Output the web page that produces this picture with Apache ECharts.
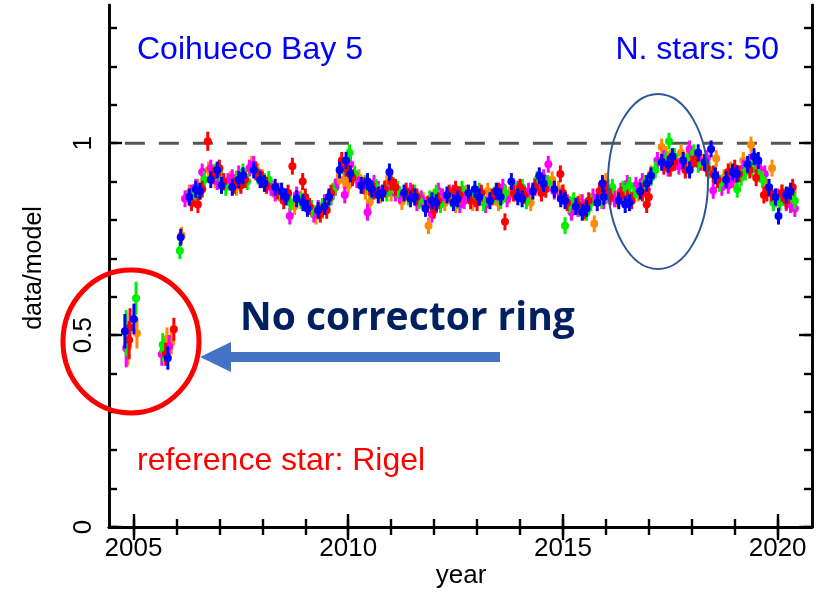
<!DOCTYPE html>
<html><head><meta charset="utf-8">
<script src="https://cdn.jsdelivr.net/npm/echarts@6/dist/echarts.min.js"></script>
<style>html,body{margin:0;padding:0;background:#fff}#c{width:826px;height:595px}</style>
</head><body><div id="c"></div><script>
// ---- tick positions / labels ----
const xMajorTicks = [2005, 2010, 2015, 2020];
const xMinorTicks = [2005, 2006, 2007, 2008, 2009, 2010, 2011, 2012, 2013, 2014, 2015, 2016, 2017, 2018, 2019, 2020];
const yMajorTicks = [0, 0.5, 1];
const yMinorTicks = [0, 0.1, 0.2, 0.3, 0.4, 0.5, 0.6, 0.7, 0.8, 0.9, 1.0, 1.1, 1.2, 1.3];
const refLine = [[2004.8, 1], [2020.6, 1]];

// ---- data: [year, data/model, error] ----
const blue = [
 [2004.80,0.51,0.045],[2005.01,0.542,0.04],[2005.80,0.44,0.03],
 [2006.10,0.755,0.022],[2006.30,0.86,0.022],[2006.55,0.875,0.022],[2006.80,0.905,0.022],[2007.05,0.89,0.022],
 [2007.30,0.885,0.022],[2007.55,0.915,0.022],[2007.80,0.93,0.022],[2008.05,0.895,0.022],[2008.30,0.885,0.022],
 [2008.55,0.86,0.022],[2008.80,0.855,0.022],[2009.05,0.83,0.022],[2009.30,0.825,0.022],[2009.55,0.86,0.022],
 [2009.80,0.93,0.022],[2010.05,0.92,0.022],[2010.30,0.89,0.022],[2010.55,0.88,0.022],[2010.80,0.87,0.022],
 [2010.96,0.925,0.022],[2011.30,0.87,0.022],[2011.55,0.86,0.022],[2011.80,0.83,0.022],[2012.05,0.845,0.022],
 [2012.30,0.865,0.022],[2012.55,0.855,0.022],[2012.80,0.87,0.022],[2013.05,0.86,0.022],[2013.30,0.85,0.022],
 [2013.55,0.86,0.022],[2013.80,0.90,0.022],[2014.05,0.855,0.022],[2014.30,0.875,0.022],[2014.55,0.895,0.022],
 [2014.80,0.88,0.022],[2015.05,0.85,0.022],[2015.30,0.835,0.022],[2015.55,0.83,0.022],[2015.80,0.845,0.022],
 [2015.92,0.895,0.022],[2016.30,0.85,0.022],[2016.55,0.845,0.022],[2016.80,0.875,0.022],[2017.05,0.915,0.022],
 [2017.30,0.95,0.022],[2017.55,0.965,0.022],[2017.80,0.955,0.022],[2018.15,0.975,0.022],[2018.30,0.95,0.022],
 [2018.55,0.915,0.022],[2018.80,0.905,0.022],[2019.05,0.92,0.022],[2019.30,0.945,0.022],[2019.55,0.955,0.022],
 [2019.80,0.885,0.022],[2020.02,0.81,0.022],[2020.30,0.875,0.022],
 [2006.45,0.88,0.022],[2006.95,0.93,0.022],[2007.45,0.905,0.022],[2007.95,0.905,0.022],[2008.45,0.875,0.022],
 [2008.95,0.845,0.022],[2009.45,0.835,0.022],[2009.95,0.955,0.022],[2010.45,0.90,0.022],[2010.70,0.865,0.022],
 [2011.45,0.855,0.022],[2011.95,0.85,0.022],[2012.45,0.845,0.022],[2012.95,0.88,0.022],[2013.45,0.875,0.022],
 [2013.95,0.86,0.022],[2014.45,0.915,0.022],[2014.95,0.855,0.022],[2015.45,0.82,0.022],[2015.95,0.86,0.022],
 [2016.45,0.84,0.022],[2016.95,0.895,0.022],[2017.45,0.945,0.022],[2017.95,0.93,0.022],[2018.45,0.985,0.022],
 [2018.95,0.925,0.022],[2019.45,0.965,0.022],[2019.95,0.86,0.022],[2020.20,0.865,0.022]
];
const red = [
 [2004.90,0.487,0.05],[2004.92,0.52,0.05],[2005.75,0.45,0.03],[2005.94,0.515,0.03],
 [2006.35,0.845,0.022],[2006.60,0.88,0.022],[2006.73,1.005,0.025],[2006.85,0.915,0.022],[2007.10,0.90,0.022],
 [2007.35,0.89,0.022],[2007.60,0.905,0.022],[2007.85,0.925,0.022],[2008.10,0.89,0.022],[2008.35,0.875,0.022],
 [2008.60,0.87,0.022],[2008.70,0.94,0.022],[2008.94,0.90,0.022],[2009.10,0.835,0.022],[2009.35,0.815,0.022],
 [2009.60,0.87,0.022],[2009.85,0.955,0.022],[2010.10,0.91,0.022],[2010.35,0.89,0.022],[2010.60,0.875,0.022],
 [2010.85,0.88,0.022],[2011.10,0.885,0.022],[2011.35,0.875,0.022],[2011.60,0.86,0.022],[2011.85,0.84,0.022],
 [2012.10,0.85,0.022],[2012.35,0.87,0.022],[2012.60,0.865,0.022],[2012.85,0.85,0.022],[2013.10,0.87,0.022],
 [2013.35,0.86,0.022],[2013.65,0.795,0.022],[2013.85,0.87,0.022],[2014.10,0.865,0.022],[2014.35,0.885,0.022],
 [2014.60,0.88,0.022],[2014.94,0.92,0.022],[2015.10,0.845,0.022],[2015.35,0.84,0.022],[2015.60,0.85,0.022],
 [2015.85,0.875,0.022],[2016.10,0.86,0.022],[2016.35,0.865,0.022],[2016.60,0.85,0.022],[2016.85,0.87,0.022],
 [2017.00,0.86,0.022],[2017.35,0.94,0.022],[2017.60,0.95,0.022],[2017.85,0.93,0.022],[2018.10,0.96,0.022],
 [2018.35,0.935,0.022],[2018.60,0.905,0.022],[2018.85,0.925,0.022],[2019.10,0.92,0.022],[2019.35,0.93,0.022],
 [2019.68,0.865,0.022],[2019.85,0.87,0.022],[2020.10,0.87,0.022],[2020.35,0.885,0.022],
 [2006.50,0.84,0.022],[2007.00,0.935,0.022],[2007.50,0.89,0.022],[2008.00,0.905,0.022],[2008.50,0.85,0.022],
 [2009.00,0.86,0.022],[2009.50,0.825,0.022],[2009.95,0.935,0.022],[2010.50,0.885,0.022],[2011.00,0.90,0.022],
 [2011.50,0.87,0.022],[2012.00,0.825,0.022],[2012.50,0.88,0.022],[2013.00,0.845,0.022],[2013.50,0.875,0.022],
 [2014.00,0.885,0.022],[2014.50,0.87,0.022],[2015.00,0.87,0.022],[2015.50,0.825,0.022],[2016.00,0.88,0.022],
 [2016.50,0.855,0.022],[2016.95,0.84,0.022],[2017.50,0.935,0.022],[2018.00,0.945,0.022],[2018.50,0.92,0.022],
 [2019.00,0.935,0.022],[2019.50,0.91,0.022],[2019.75,0.87,0.022],[2020.20,0.85,0.022]
];
const green = [
 [2004.83,0.505,0.06],[2005.06,0.596,0.043],[2005.68,0.475,0.03],[2005.70,0.46,0.03],
 [2006.08,0.72,0.022],[2006.40,0.86,0.022],[2006.65,0.905,0.022],[2006.90,0.925,0.022],[2007.15,0.885,0.022],
 [2007.40,0.905,0.022],[2007.65,0.90,0.022],[2007.90,0.915,0.022],[2008.15,0.905,0.022],[2008.40,0.875,0.022],
 [2008.65,0.845,0.022],[2008.90,0.85,0.022],[2009.15,0.83,0.022],[2009.40,0.835,0.022],[2009.65,0.875,0.022],
 [2009.90,0.94,0.022],[2010.03,0.975,0.022],[2010.40,0.895,0.022],[2010.65,0.885,0.022],[2010.90,0.87,0.022],
 [2011.15,0.88,0.022],[2011.40,0.86,0.022],[2011.65,0.85,0.022],[2011.90,0.855,0.022],[2012.15,0.84,0.022],
 [2012.40,0.855,0.022],[2012.65,0.88,0.022],[2012.90,0.865,0.022],[2013.15,0.845,0.022],[2013.40,0.865,0.022],
 [2013.65,0.87,0.022],[2013.90,0.875,0.022],[2014.15,0.85,0.022],[2014.40,0.905,0.022],[2014.65,0.895,0.022],
 [2015.05,0.785,0.022],[2015.15,0.84,0.022],[2015.40,0.83,0.022],[2015.65,0.845,0.022],[2015.90,0.855,0.022],
 [2016.15,0.885,0.022],[2016.40,0.88,0.022],[2016.65,0.865,0.022],[2016.90,0.895,0.022],[2017.15,0.93,0.022],
 [2017.40,0.955,0.022],[2017.47,1.005,0.022],[2017.90,0.95,0.022],[2018.15,0.945,0.022],[2018.40,0.93,0.022],
 [2018.65,0.895,0.022],[2019.06,0.88,0.022],[2019.15,0.91,0.022],[2019.40,0.935,0.022],[2019.65,0.905,0.022],
 [2019.90,0.845,0.022],[2020.15,0.86,0.022],[2020.40,0.85,0.022],
 [2006.55,0.875,0.022],[2007.05,0.91,0.022],[2007.55,0.925,0.022],[2008.05,0.90,0.022],[2008.55,0.86,0.022],
 [2009.05,0.845,0.022],[2009.55,0.85,0.022],[2010.15,0.92,0.022],[2010.55,0.875,0.022],[2011.05,0.89,0.022],
 [2011.55,0.87,0.022],[2012.05,0.87,0.022],[2012.55,0.85,0.022],[2013.05,0.875,0.022],[2013.55,0.85,0.022],
 [2014.05,0.885,0.022],[2014.55,0.885,0.022],[2015.25,0.85,0.022],[2015.55,0.82,0.022],[2016.05,0.865,0.022],
 [2016.55,0.89,0.022],[2017.05,0.91,0.022],[2017.60,0.965,0.022],[2018.05,0.975,0.022],[2018.55,0.915,0.022],
 [2019.25,0.925,0.022],[2019.55,0.92,0.022],[2020.05,0.845,0.022],[2020.30,0.87,0.022]
];
const magenta = [
 [2004.83,0.466,0.05],[2005.66,0.45,0.03],[2005.83,0.47,0.03],
 [2006.20,0.855,0.022],[2006.45,0.885,0.022],[2006.60,0.925,0.022],[2006.95,0.90,0.022],[2007.20,0.90,0.022],
 [2007.45,0.92,0.022],[2007.70,0.935,0.022],[2007.95,0.91,0.022],[2008.20,0.885,0.022],[2008.45,0.865,0.022],
 [2008.64,0.81,0.022],[2008.95,0.845,0.022],[2009.20,0.815,0.022],[2009.45,0.845,0.022],[2009.70,0.885,0.022],
 [2009.92,0.865,0.022],[2010.20,0.905,0.022],[2010.45,0.82,0.022],[2010.70,0.88,0.022],[2010.95,0.885,0.022],
 [2011.20,0.865,0.022],[2011.45,0.875,0.022],[2011.70,0.855,0.022],[2011.95,0.815,0.022],[2012.20,0.86,0.022],
 [2012.45,0.87,0.022],[2012.70,0.85,0.022],[2012.95,0.855,0.022],[2013.20,0.84,0.022],[2013.45,0.87,0.022],
 [2013.70,0.855,0.022],[2013.95,0.88,0.022],[2014.20,0.875,0.022],[2014.45,0.885,0.022],[2014.66,0.945,0.022],
 [2014.95,0.86,0.022],[2015.20,0.82,0.022],[2015.45,0.845,0.022],[2015.70,0.86,0.022],[2015.95,0.85,0.022],
 [2016.20,0.855,0.022],[2016.50,0.895,0.022],[2016.70,0.89,0.022],[2016.95,0.88,0.022],[2017.20,0.955,0.022],
 [2017.45,0.935,0.022],[2017.70,0.94,0.022],[2017.95,0.985,0.022],[2018.20,0.95,0.022],[2018.50,0.877,0.022],
 [2018.70,0.885,0.022],[2018.95,0.905,0.022],[2019.20,0.935,0.022],[2019.45,0.945,0.022],[2019.70,0.92,0.022],
 [2019.95,0.855,0.022],[2020.20,0.845,0.022],[2020.40,0.83,0.022],
 [2006.35,0.87,0.022],[2006.80,0.935,0.022],[2007.30,0.91,0.022],[2007.80,0.945,0.022],[2008.30,0.87,0.022],
 [2008.80,0.865,0.022],[2009.30,0.83,0.022],[2009.60,0.86,0.022],[2010.05,0.945,0.022],[2010.60,0.895,0.022],
 [2011.10,0.87,0.022],[2011.60,0.845,0.022],[2012.10,0.875,0.022],[2012.60,0.84,0.022],[2013.10,0.86,0.022],
 [2013.60,0.885,0.022],[2014.10,0.865,0.022],[2014.55,0.91,0.022],[2014.80,0.875,0.022],[2015.35,0.83,0.022],
 [2015.85,0.86,0.022],[2016.35,0.875,0.022],[2016.85,0.90,0.022],[2017.35,0.96,0.022],[2017.85,0.94,0.022],
 [2018.35,0.96,0.022],[2018.85,0.89,0.022],[2019.35,0.95,0.022],[2019.60,0.93,0.022],[2020.00,0.86,0.022],
 [2020.30,0.84,0.022]
];
const orange = [
 [2004.87,0.47,0.05],[2005.08,0.505,0.04],[2005.78,0.49,0.03],[2005.88,0.48,0.03],
 [2006.12,0.76,0.022],[2006.30,0.87,0.022],[2006.50,0.885,0.022],[2006.75,0.93,0.022],[2007.00,0.91,0.022],
 [2007.25,0.905,0.022],[2007.50,0.895,0.022],[2007.75,0.945,0.022],[2008.00,0.91,0.022],[2008.25,0.88,0.022],
 [2008.50,0.86,0.022],[2008.75,0.835,0.022],[2009.00,0.85,0.022],[2009.25,0.81,0.022],[2009.50,0.845,0.022],
 [2009.75,0.90,0.022],[2010.00,0.89,0.022],[2010.25,0.91,0.022],[2010.50,0.846,0.022],[2010.75,0.865,0.022],
 [2011.00,0.87,0.022],[2011.25,0.848,0.022],[2011.50,0.87,0.022],[2011.87,0.785,0.022],[2012.00,0.86,0.022],
 [2012.25,0.845,0.022],[2012.50,0.84,0.022],[2012.75,0.87,0.022],[2013.00,0.86,0.022],[2013.25,0.875,0.022],
 [2013.50,0.845,0.022],[2013.75,0.865,0.022],[2014.00,0.88,0.022],[2014.25,0.845,0.022],[2014.50,0.88,0.022],
 [2014.75,0.905,0.022],[2015.00,0.87,0.022],[2015.25,0.84,0.022],[2015.50,0.82,0.022],[2015.73,0.79,0.022],
 [2016.00,0.90,0.022],[2016.25,0.855,0.022],[2016.50,0.86,0.022],[2016.75,0.87,0.022],[2017.05,0.92,0.022],
 [2017.30,0.99,0.022],[2017.50,0.96,0.022],[2017.75,0.975,0.022],[2018.00,0.96,0.022],[2018.25,0.95,0.022],
 [2018.57,0.96,0.022],[2018.75,0.91,0.022],[2019.00,0.91,0.022],[2019.38,0.995,0.022],[2019.55,0.93,0.022],
 [2019.87,0.935,0.022],[2020.10,0.87,0.022],[2020.35,0.875,0.022],
 [2006.40,0.855,0.022],[2006.90,0.905,0.022],[2007.40,0.885,0.022],[2007.90,0.925,0.022],[2008.40,0.87,0.022],
 [2008.90,0.855,0.022],[2009.40,0.825,0.022],[2009.90,0.905,0.022],[2010.40,0.875,0.022],[2010.90,0.895,0.022],
 [2011.40,0.86,0.022],[2011.75,0.85,0.022],[2012.40,0.865,0.022],[2012.90,0.845,0.022],[2013.40,0.86,0.022],
 [2013.90,0.87,0.022],[2014.40,0.895,0.022],[2014.90,0.88,0.022],[2015.40,0.845,0.022],[2015.90,0.85,0.022],
 [2016.40,0.87,0.022],[2016.90,0.88,0.022],[2017.40,0.97,0.022],[2017.90,0.965,0.022],[2018.40,0.93,0.022],
 [2018.90,0.93,0.022],[2019.20,0.955,0.022],[2019.70,0.90,0.022],[2020.25,0.865,0.022]
];

const seriesDefs = [
 {name:'orange', data:orange, color:'#ff8c00'},
 {name:'magenta', data:magenta, color:'#ff00ff'},
 {name:'green', data:green, color:'#00ee00'},
 {name:'red', data:red, color:'#ff0000'},
 {name:'blue', data:blue, color:'#0000ff'}
];

function errRender(color){
  return function(params, api){
    const x = api.value(0), y = api.value(1), e = api.value(2);
    const p = api.coord([x, y]);
    const hi = api.coord([x, y + e]);
    const lo = api.coord([x, y - e]);
    return {type:'group', children:[
      {type:'line', shape:{x1:p[0], y1:hi[1], x2:p[0], y2:lo[1]}, style:{stroke:color, lineWidth:3}},
      {type:'circle', shape:{cx:p[0], cy:p[1], r:4}, style:{fill:color}}
    ]};
  };
}

const XMIN = 2004.43, XMAX = 2020.8, YMIN = 0, YMAX = 1.36;
const axisLineStyle = {show:true, lineStyle:{color:'#000', width:2.6}};
function xAx(pos, ticks, len, labels){
  return {type:'value', position:pos, min:XMIN, max:XMAX,
    axisLine: axisLineStyle, splitLine:{show:false},
    axisTick:{show:true, inside:true, length:len, customValues:ticks, lineStyle:{color:'#000', width:2.4}},
    axisLabel: labels ? {show:true, customValues:ticks, margin:9, fontSize:26, color:'#000',
      fontFamily:'Liberation Sans, Arial', formatter:v=>String(v)} : {show:false}};
}
function yAx(pos, ticks, len, labels){
  return {type:'value', position:pos, min:YMIN, max:YMAX,
    axisLine: axisLineStyle, splitLine:{show:false},
    axisTick:{show:true, inside:true, length:len, customValues:ticks, lineStyle:{color:'#000', width:2.4}},
    axisLabel: labels ? {show:true, customValues:ticks, rotate:90, margin:12, fontSize:26, color:'#000',
      fontFamily:'Liberation Sans, Arial', formatter:v=>String(v)} : {show:false}};
}

const chart = echarts.init(document.getElementById('c'), null, {renderer:'canvas'});
const series = [{
  type:'line', data:refLine, xAxisIndex:0, yAxisIndex:0, symbol:'none', silent:true,
  lineStyle:{color:'#555', width:3, type:[20,14]}, z:1
}];
seriesDefs.forEach(d => series.push({
  type:'custom', name:d.name, xAxisIndex:0, yAxisIndex:0, data:d.data,
  renderItem: errRender(d.color), encode:{x:0, y:1}, z:3
}));

const txt = (x, y, s, size, color, align, weight, family) => ({
  type:'text', x:x, y:y, z:100,
  style:{text:s, fontSize:size, fill:color, align:align||'left', verticalAlign:'middle',
    fontWeight:weight||'normal', fontFamily:family||'Liberation Sans, Arial'}
});

chart.setOption({
  animation:false,
  backgroundColor:'#fff',
  grid:{left:109, right:14, top:5, bottom:68, containLabel:false},
  xAxis:[xAx('bottom', xMajorTicks, 13, true), xAx('bottom', xMinorTicks, 8, false),
         xAx('top', xMajorTicks, 13, false), xAx('top', xMinorTicks, 8, false)],
  yAxis:[yAx('left', yMajorTicks, 13, true), yAx('left', yMinorTicks, 8, false),
         yAx('right', yMajorTicks, 13, false), yAx('right', yMinorTicks, 8, false)],
  series: series,
  graphic:[
    txt(137, 50, 'Coihueco Bay 5', 32, '#0000ff', 'left'),
    txt(779, 50, 'N. stars: 50', 32, '#0000ff', 'right'),
    txt(137, 461, 'reference star: Rigel', 32, '#ff0000', 'left'),
    txt(240, 319, 'No corrector ring', 39, '#002060', 'left', 'bold', 'Open Sans'),
    txt(461, 576, 'year', 26, '#000', 'center'),
    {type:'text', x:34, y:268, rotation:Math.PI/2, z:100,
      style:{text:'data/model', fontSize:25, fill:'#000', align:'center', verticalAlign:'middle', fontFamily:'Liberation Sans, Arial'}},
    {type:'ellipse', shape:{cx:131, cy:341.5, rx:68, ry:71.5}, z:90,
      style:{stroke:'#ff0000', lineWidth:5, fill:null}},
    {type:'ellipse', shape:{cx:658, cy:181.5, rx:50, ry:87.5}, z:90,
      style:{stroke:'#2F5597', lineWidth:2, fill:null}},
    {type:'polygon', z:90, shape:{points:[[200,357],[231,342],[231,352],[500,352],[500,362],[231,362],[231,372]]},
      style:{fill:'#4472C4'}}
  ]
});
</script></body></html>
